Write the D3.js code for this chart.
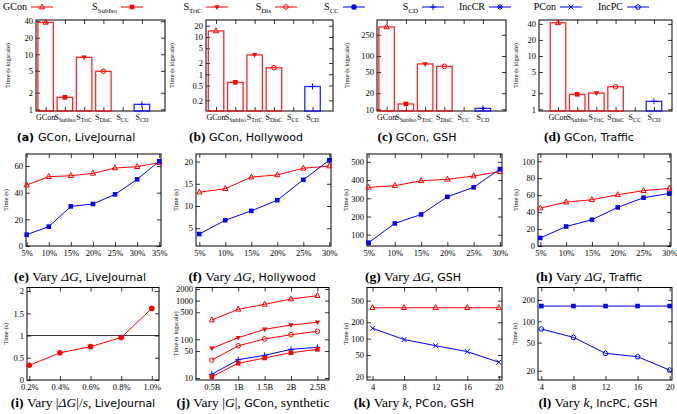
<!DOCTYPE html>
<html><head><meta charset="utf-8">
<script src="https://cdn.jsdelivr.net/npm/d3@7"></script>
<style>body{margin:0;background:#fff}svg{display:block}</style>
</head><body>
<script>
// ---------------- DATA ----------------
const barCats = ["GCon", "SSubIso", "STriC", "SDisC", "SCC", "SCD"];
const barLiveJournal = [38, 1.65, 8.8, 4.9, null, 1.23];
const barHollywood = [14.5, 0.61, 3.3, 1.5, null, 0.47];
const barGSH = [350, 12.6, 70.8, 64, null, 10.4];
const barTraffic = [42, 1.91, 2.02, 2.65, null, 1.41];

const pct7 = ["5%", "10%", "15%", "20%", "25%", "30%", "35%"];
const pct6 = ["5%", "10%", "15%", "20%", "25%", "30%"];
const eGCon = [45.7, 52, 52.7, 54.5, 58.5, 59.5, 62.5];
const eInc = [8.5, 14.5, 29.7, 31.5, 38.7, 50, 63.5];
const fGCon = [13.1, 13.9, 16.5, 17, 18.5, 19];
const fInc = [3.7, 6.8, 8.9, 11.3, 15.9, 20.3];
const gGCon = [360, 369, 396, 404, 422, 446];
const gInc = [56, 162, 211, 308, 360, 460];
const hGCon = [44.7, 51.8, 54.6, 60.5, 65.3, 68];
const hInc = [9.5, 23, 31, 45.6, 57, 62];

const iX = [0.2, 0.4, 0.6, 0.8, 1.0];
const iXLabels = ["0.2%", "0.4%", "0.6%", "0.8%", "1.0%"];
const iVals = [0.33, 0.61, 0.75, 0.955, 1.61];

const jX = [0.5, 1, 1.5, 2, 2.5];
const jXLabels = ["0.5B", "1B", "1.5B", "2B", "2.5B"];
const jGCon = [315, 596, 802, 1100, 1340];
const jSTriC = [58.5, 110, 181, 234, 275];
const jSDisC = [29, 68, 102, 131, 161];
const jSCD = [12.5, 29.7, 38.5, 55, 62];
const jSSubIso = [10.8, 24, 32.9, 45, 55];

const kX = [4, 8, 12, 16, 20];
const kGCon = [370, 370, 370, 370, 370];
const kPCon = [155, 96, 74, 57.6, 36.8];
const lInc = [164, 164, 164, 164, 164];
const lIncPC = [77.8, 59.3, 35.2, 31.6, 20.4];

// ---------------- STYLE ----------------
const RED = "#ff0000", BLUE = "#0000ff";
const SERIF = "'Liberation Serif','DejaVu Serif',serif";
const SANS = "'DejaVu Sans','Noto Sans',sans-serif";

const svg = d3.select("body").append("svg").attr("width", 677).attr("height", 414);

function marker(g, type, cx, cy, color) {
  const s = 2.6;
  if (type === "tri") {
    g.append("path").attr("d", `M${cx},${cy - s - 0.5}L${cx + s},${cy + s * 0.7}L${cx - s},${cy + s * 0.7}Z`)
      .attr("fill", "none").attr("stroke", color).attr("stroke-width", 1);
  } else if (type === "sq") {
    g.append("rect").attr("x", cx - 2.3).attr("y", cy - 2.3).attr("width", 4.6).attr("height", 4.6).attr("fill", color);
  } else if (type === "dtri") {
    g.append("path").attr("d", `M${cx},${cy + s + 0.3}L${cx + s},${cy - s * 0.7}L${cx - s},${cy - s * 0.7}Z`).attr("fill", color);
  } else if (type === "diam") {
    g.append("circle").attr("cx", cx).attr("cy", cy).attr("r", 2.3).attr("fill", "none").attr("stroke", color).attr("stroke-width", 1);
  } else if (type === "dot") {
    g.append("circle").attr("cx", cx).attr("cy", cy).attr("r", 2.8).attr("fill", color);
  } else if (type === "plus") {
    g.append("path").attr("d", `M${cx - 3},${cy}H${cx + 3}M${cx},${cy - 3}V${cy + 3}`).attr("stroke", color).attr("stroke-width", 1);
  } else if (type === "x") {
    g.append("path").attr("d", `M${cx - 2.5},${cy - 2.5}L${cx + 2.5},${cy + 2.5}M${cx - 2.5},${cy + 2.5}L${cx + 2.5},${cy - 2.5}`).attr("stroke", color).attr("stroke-width", 1);
  } else if (type === "star") {
    g.append("path").attr("d", `M${cx - 3},${cy}H${cx + 3}M${cx},${cy - 3}V${cy + 3}M${cx - 2.2},${cy - 2.2}L${cx + 2.2},${cy + 2.2}M${cx - 2.2},${cy + 2.2}L${cx + 2.2},${cy - 2.2}`).attr("stroke", color).attr("stroke-width", 1);
  } else if (type === "pent") {
    const pts = d3.range(5).map(k => { const a = -Math.PI / 2 + k * 2 * Math.PI / 5; return [cx + 2.6 * Math.cos(a), cy + 2.6 * Math.sin(a)]; });
    g.append("path").attr("d", "M" + pts.join("L") + "Z").attr("fill", "none").attr("stroke", color).attr("stroke-width", 1);
  }
}

function styleAxis(a, size) {
  a.select(".domain").remove();
  a.attr("font-family", SERIF).attr("font-size", size || 8.5);
  a.selectAll("line").attr("stroke", "#000").attr("stroke-width", 0.8);
  a.selectAll("text").attr("fill", "#000");
}

function drawPanel(p) {
  const g = svg.append("g");
  const x = d3.scaleLinear().domain(p.xd).range([p.l, p.r]);
  const y = (p.log ? d3.scaleLog() : d3.scaleLinear()).domain(p.yd).range([p.b, p.t]);
  const fmt = d => String(d);
  g.append("g").attr("transform", `translate(${p.l},0)`)
    .call(d3.axisLeft(y).tickValues(p.yt).tickFormat(fmt).tickSizeInner(-4).tickSizeOuter(0).tickPadding(3))
    .call(a => styleAxis(a));
  g.append("g").attr("transform", `translate(${p.r},0)`)
    .call(d3.axisRight(y).tickValues(p.yt).tickFormat("").tickSizeInner(-4).tickSizeOuter(0))
    .call(a => styleAxis(a));
  g.append("g").attr("transform", `translate(0,${p.b})`)
    .call(d3.axisBottom(x).tickValues(p.xt).tickFormat((d, i) => p.xl ? p.xl[i] : "").tickSizeInner(-4).tickSizeOuter(0).tickPadding(4))
    .call(a => styleAxis(a));
  g.append("g").attr("transform", `translate(0,${p.t})`)
    .call(d3.axisTop(x).tickValues(p.xt).tickFormat("").tickSizeInner(-4).tickSizeOuter(0))
    .call(a => styleAxis(a));
  g.append("rect").attr("x", p.l).attr("y", p.t).attr("width", p.r - p.l).attr("height", p.b - p.t)
    .attr("fill", "none").attr("stroke", "#000").attr("stroke-width", 1);

  const cy = (p.t + p.b) / 2;
  g.append("text").attr("transform", `translate(${p.tx},${cy}) rotate(-90)`)
    .attr("text-anchor", "middle").attr("font-family", SERIF).attr("font-size", 6.5).text(p.ytitle);

  if (p.hline !== undefined) {
    g.append("line").attr("x1", p.l).attr("x2", p.r).attr("y1", y(p.hline)).attr("y2", y(p.hline))
      .attr("stroke", "#000").attr("stroke-width", 0.8);
  }

  if (p.bars) {
    p.bars.forEach((v, i) => {
      if (v == null) return;
      const col = barCats[i] === "SCD" ? BLUE : RED;
      const cx = x(i), w = 15.5;
      g.append("rect").attr("x", cx - w / 2).attr("y", y(v)).attr("width", w).attr("height", p.b - y(v))
        .attr("fill", "none").attr("stroke", col).attr("stroke-width", 1.3).attr("stroke-opacity", 0.85);
      marker(g, p.barMk[i], cx, y(v), col);
    });
    barCats.forEach((c, i) => {
      const t = g.append("text").attr("x", x(i)).attr("y", p.b + 8.5).attr("text-anchor", "middle")
        .attr("font-family", SERIF).attr("font-size", 8);
      if (c === "GCon") t.text("GCon");
      else {
        t.append("tspan").text("S");
        t.append("tspan").attr("font-size", 6).attr("dy", 2).text(c.slice(1));
      }
    });
  }
  if (p.series) {
    p.series.forEach(s => {
      const pts = s.v.map((v, i) => [x(p.sx[i]), y(v)]);
      g.append("path").attr("d", d3.line()(pts)).attr("fill", "none").attr("stroke", s.c).attr("stroke-width", 1);
      pts.forEach(pt => marker(g, s.m, pt[0], pt[1], s.c));
    });
  }
  const cap = g.append("text").attr("x", p.cx).attr("y", p.cyy).attr("text-anchor", "middle");
  p.cap.forEach(part => {
    const ts = cap.append("tspan").text(part.t)
      .attr("font-family", part.f === "sans" ? SANS : SERIF)
      .attr("font-size", part.f === "sans" ? 11 : 13.5);
    if (part.b) ts.attr("font-weight", "bold");
    if (part.i) ts.attr("font-style", "italic");
  });
}

const barMk = ["tri", "sq", "dtri", "diam", "dot", "plus"];
const idx6 = [0, 1, 2, 3, 4, 5];
const idx7 = [0, 1, 2, 3, 4, 5, 6];

// Row 1
drawPanel({ l: 36, r: 165, t: 20, b: 111, xd: [-0.5, 6.2], xt: idx6, log: true, yd: [0.931, 42], yt: [1, 2, 5, 10, 20, 40],
  bars: barLiveJournal, barMk, tx: 10, ytitle: "Time (s logscale)", cx: 76, cyy: 141,
  cap: [{ t: "(a) ", b: 1, f: "sans" }, { t: " GCon, LiveJournal", f: "sans" }] });
drawPanel({ l: 206, r: 333, t: 20, b: 111, xd: [-0.52, 6.06], xt: idx6, log: true, yd: [0.1037, 28.5], yt: [0.2, 0.5, 1, 2, 5, 10, 20],
  bars: barHollywood, barMk, tx: 174, ytitle: "Time (s logscale)", cx: 246, cyy: 141,
  cap: [{ t: "(b) ", b: 1 }, { t: " GCon, Hollywood", f: "sans" }] });
drawPanel({ l: 377, r: 506, t: 20, b: 111, xd: [-0.5, 6.2], xt: idx6, log: true, yd: [9.29, 473], yt: [10, 20, 50, 100, 250],
  bars: barGSH, barMk, tx: 349, ytitle: "Time (s logscale)", cx: 417, cyy: 141,
  cap: [{ t: "(c) ", b: 1 }, { t: " GCon, GSH", f: "sans" }] });
drawPanel({ l: 539, r: 672, t: 20, b: 111, xd: [-0.99, 5.94], xt: idx6, log: true, yd: [0.929, 47.3], yt: [1, 2, 5, 10, 20, 40],
  bars: barTraffic, barMk, tx: 518, ytitle: "Time (s logscale)", cx: 589, cyy: 141,
  cap: [{ t: "(d) ", b: 1 }, { t: " GCon, Traffic", f: "sans" }] });

// Row 2
function capDelta(lbl, name) {
  return [{ t: lbl + " ", b: 1 }, { t: "Vary " }, { t: "ΔG", i: 1 }, { t: ", " }, { t: name, f: "sans" }];
}
drawPanel({ l: 26, r: 161, t: 154, b: 246, xd: [-0.03, 6.08], xt: idx7, xl: pct7, yd: [0, 69], yt: [0, 20, 40, 60],
  sx: idx7, series: [{ v: eGCon, c: RED, m: "tri" }, { v: eInc, c: BLUE, m: "sq" }],
  tx: 8, ytitle: "Time (s)", cx: 80, cyy: 281, cap: capDelta("(e)", "LiveJournal") });
drawPanel({ l: 196, r: 331, t: 154, b: 246, xd: [-0.127, 5.065], xt: idx6, xl: pct6, yd: [1, 21.7], yt: [5, 10, 15, 20],
  sx: idx6, series: [{ v: fGCon, c: RED, m: "tri" }, { v: fInc, c: BLUE, m: "sq" }],
  tx: 178, ytitle: "Time (s)", cx: 252, cyy: 281, cap: capDelta("(f)", "Hollywood") });
drawPanel({ l: 367, r: 502, t: 154, b: 246, xd: [-0.06, 5.08], xt: idx6, xl: pct6, yd: [38, 543], yt: [100, 200, 300, 400, 500],
  sx: idx6, series: [{ v: gGCon, c: RED, m: "tri" }, { v: gInc, c: BLUE, m: "sq" }],
  tx: 348, ytitle: "Time (s)", cx: 413, cyy: 281, cap: capDelta("(g)", "GSH") });
drawPanel({ l: 538, r: 671, t: 154, b: 246, xd: [-0.09, 5.065], xt: idx6, xl: pct6, yd: [0, 108.6], yt: [0, 20, 40, 60, 80, 100],
  sx: idx6, series: [{ v: hGCon, c: RED, m: "tri" }, { v: hInc, c: BLUE, m: "sq" }],
  tx: 518, ytitle: "Time (s)", cx: 589, cyy: 281, cap: capDelta("(h)", "Traffic") });

// Row 3
drawPanel({ l: 27, r: 159, t: 287.5, b: 380, xd: [0.185, 1.047], xt: iX, xl: iXLabels, yd: [0, 2.08], yt: [0, 0.5, 1, 1.5, 2],
  sx: iX, series: [{ v: iVals, c: RED, m: "dot" }], hline: 1,
  tx: 8, ytitle: "Time (s)", cx: 83, cyy: 407,
  cap: [{ t: "(i) ", b: 1 }, { t: "Vary |" }, { t: "ΔG", i: 1 }, { t: "|/" }, { t: "s", i: 1 }, { t: ", " }, { t: "LiveJournal", f: "sans" }] });
drawPanel({ l: 196, r: 329, t: 287.5, b: 380, xd: [0.2, 2.72], xt: jX, xl: jXLabels, log: true, yd: [8.88, 2181], yt: [10, 50, 100, 500, 1000, 2000],
  sx: jX, series: [
    { v: jGCon, c: RED, m: "tri" }, { v: jSTriC, c: RED, m: "dtri" }, { v: jSDisC, c: RED, m: "diam" },
    { v: jSCD, c: BLUE, m: "plus" }, { v: jSSubIso, c: RED, m: "sq" }],
  tx: 178, ytitle: "Time (s logscale)", cx: 253, cyy: 407,
  cap: [{ t: "(j) ", b: 1 }, { t: "Vary |" }, { t: "G", i: 1 }, { t: "|, " }, { t: "GCon", f: "sans" }, { t: ", synthetic" }] });
drawPanel({ l: 367, r: 502, t: 287.5, b: 380, xd: [3.3, 20.4], xt: kX, xl: kX.map(String), log: true, yd: [17.3, 873], yt: [20, 50, 100, 200, 500],
  sx: kX, series: [{ v: kGCon, c: RED, m: "tri" }, { v: kPCon, c: BLUE, m: "x" }],
  tx: 348, ytitle: "Time (s)", cx: 414, cyy: 407,
  cap: [{ t: "(k) ", b: 1 }, { t: "Vary " }, { t: "k", i: 1 }, { t: ", " }, { t: "PCon, GSH", f: "sans" }] });
drawPanel({ l: 538, r: 672, t: 287.5, b: 380, xd: [3.58, 20.29], xt: kX, xl: kX.map(String), log: true, yd: [14.8, 300], yt: [20, 50, 100, 200],
  sx: kX, series: [{ v: lInc, c: BLUE, m: "sq" }, { v: lIncPC, c: BLUE, m: "pent" }],
  tx: 517, ytitle: "Time (s)", cx: 598, cyy: 407,
  cap: [{ t: "(l) ", b: 1 }, { t: "Vary " }, { t: "k", i: 1 }, { t: ", " }, { t: "IncPC, GSH", f: "sans" }] });

// Legend
const legendItems = [
  { main: "GCon", sub: "", c: RED, m: "tri" },
  { main: "S", sub: "SubIso", c: RED, m: "sq" },
  { main: "S", sub: "TriC", c: RED, m: "dtri" },
  { main: "S", sub: "Dis", c: RED, m: "diam" },
  { main: "S", sub: "CC", c: BLUE, m: "dot" },
  { main: "S", sub: "CD", c: BLUE, m: "plus" },
  { main: "IncCR", sub: "", c: BLUE, m: "star" },
  { main: "PCon", sub: "", c: BLUE, m: "x" },
  { main: "IncPC", sub: "", c: BLUE, m: "pent" }
];
const legendLineStart = [31, 121, 206, 275, 343, 422, 489, 560, 627];
const lg = svg.append("g");
legendItems.forEach((it, k) => {
  const x0 = legendLineStart[k];
  const t = lg.append("text").attr("x", x0 - 4).attr("y", 10).attr("text-anchor", "end")
    .attr("font-family", SERIF).attr("font-size", 10);
  t.append("tspan").text(it.main);
  if (it.sub) t.append("tspan").attr("font-size", 7).attr("dy", 2.5).text(it.sub);
  lg.append("line").attr("x1", x0).attr("x2", x0 + 22).attr("y1", 7).attr("y2", 7).attr("stroke", it.c).attr("stroke-width", 1);
  marker(lg, it.m, x0 + 11, 7, it.c);
});
</script>
</body></html>
